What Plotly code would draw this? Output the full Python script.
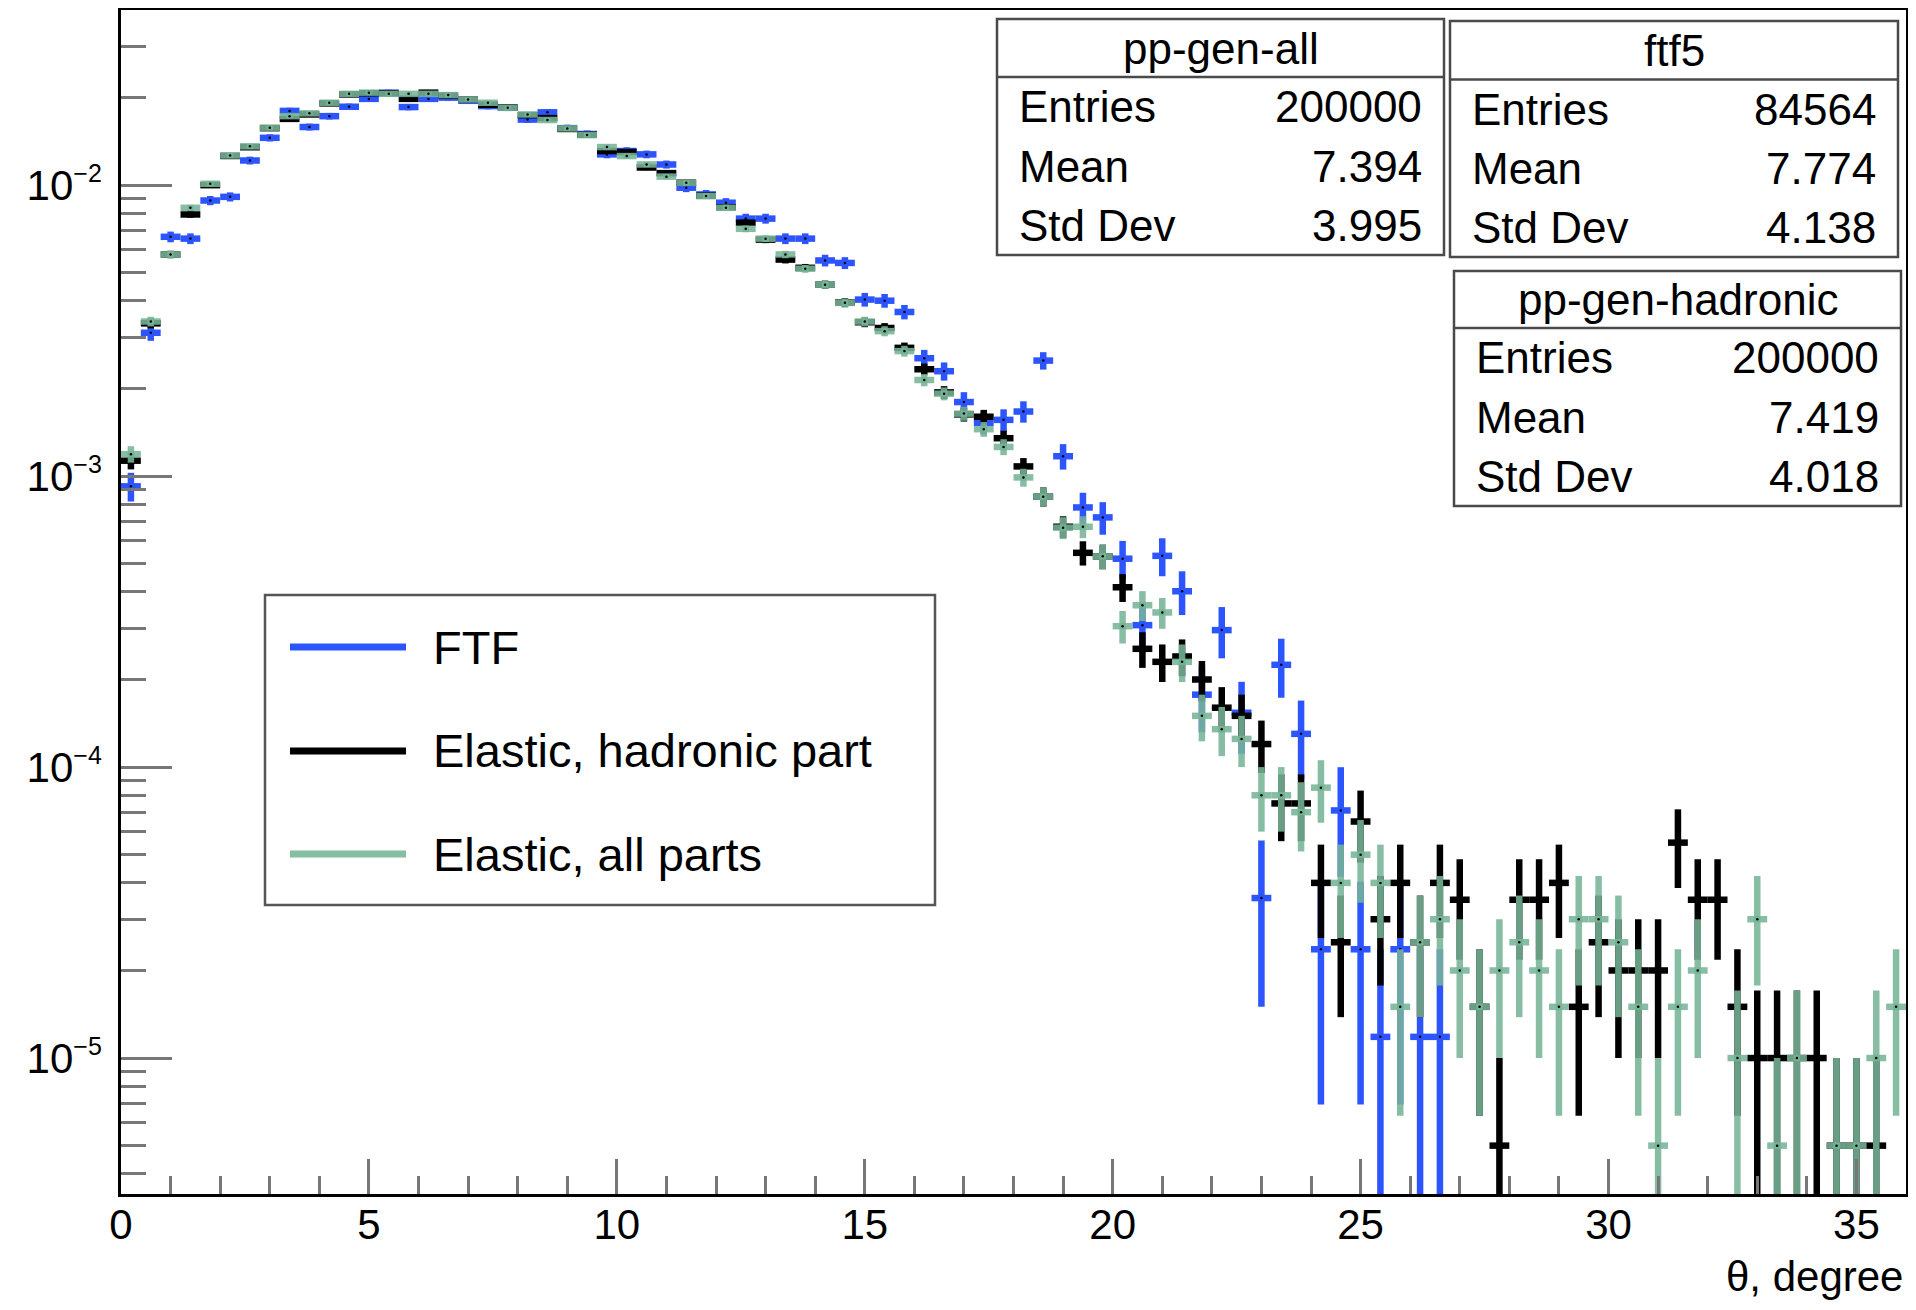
import numpy as np
import plotly.graph_objects as go

# ---------------- data ----------------
N_BINS = 90
X_MIN, X_MAX = 0.0, 36.0

stats_titles = ["pp-gen-all", "ftf5", "pp-gen-hadronic"]
stats_entries = [200000, 84564, 200000]
stats_mean = ["7.394", "7.774", "7.419"]
stats_std = ["3.995", "4.138", "4.018"]

legend_labels = ["FTF", "Elastic, hadronic part", "Elastic, all parts"]

y_decades = [-5, -4, -3, -2]          # labelled decades on the y axis
x_major = [0, 5, 10, 15, 20, 25, 30, 35]

# bin contents (counts) per 0.4-degree bin
ftf_counts = [78, 263, 562, 554, 749, 771, 1028, 1230, 1522, 1340,
              1460, 1573, 1674, 1759, 1569, 1674, 1691, 1649, 1581, 1560,
              1421, 1505, 1328, 1268, 1079, 1108, 1079, 996, 829, 786,
              736, 649, 649, 554, 554, 466, 457, 342, 339, 310,
              215, 194, 152, 129, 132, 141, 211, 99, 66, 61,
              44, 26, 45, 34, 15, 25, 13, 3, 19, 11,
              2, 6, 2, 1, 2, 1, 1, 0, 0, 0,
              0, 0, 0, 0, 0, 0, 0, 0, 0, 0,
              0, 0, 0, 0, 0, 0, 0, 0, 0, 0]

had_counts = [226, 670, 1156, 1586, 2000, 2520, 2700, 3140, 3380, 3500,
              3820, 4100, 4140, 4140, 3960, 4160, 4060, 3940, 3780, 3700,
              3480, 3400, 3120, 2980, 2620, 2600, 2300, 2200, 2040, 1840,
              1680, 1486, 1300, 1110, 1040, 910, 790, 676, 646, 552,
              466, 388, 326, 320, 270, 216, 170, 134, 109, 106,
              83, 51, 46, 48, 40, 32, 30, 24, 15, 15,
              8, 5, 13, 6, 8, 5, 8, 7, 3, 1,
              7, 7, 8, 3, 5, 4, 4, 4, 11, 7,
              7, 3, 2, 2, 2, 2, 1, 1, 1, 0]

all_counts = [238, 680, 1156, 1672, 2022, 2530, 2720, 3152, 3454, 3532,
              3840, 4120, 4160, 4120, 4120, 4120, 4080, 3940, 3840, 3690,
              3500, 3350, 3134, 2972, 2704, 2518, 2356, 2140, 2038, 1834,
              1672, 1416, 1310, 1156, 1032, 910, 788, 680, 630, 538,
              428, 384, 328, 290, 252, 198, 170, 133, 134, 106,
              61, 72, 68, 46, 30, 27, 25, 16, 16, 14,
              17, 8, 10, 8, 3, 5, 6, 4, 3, 4,
              5, 4, 3, 6, 6, 5, 3, 1, 3, 4,
              0, 2, 6, 1, 2, 0, 1, 1, 2, 3]

# ---------------- styling ----------------
FONT = "Liberation Sans, Arial, Helvetica, sans-serif"
BLUE = "rgb(44,84,255)"
BLACK = "rgb(0,0,0)"
GREEN = "rgba(118,180,150,0.88)"
GREEN_LEG = "rgb(134,190,162)"

# page body has an 8px margin: build the figure so that it lands on the target pixels
OFF = 8
W, H = 1916 - OFF, 1310 - OFF
PLOT_L, PLOT_R, PLOT_T, PLOT_B = 121, 1906, 10, 1194   # target pixel frame
ML, MR, MT, MB = PLOT_L - OFF, W - (PLOT_R - OFF), PLOT_T - OFF, H - (PLOT_B - OFF)
PW, PH = PLOT_R - PLOT_L, PLOT_B - PLOT_T

def px(X):
    return (X - PLOT_L) / PW

def py(Y):
    return (PLOT_B - Y) / PH

bin_w = (X_MAX - X_MIN) / N_BINS
theta = X_MIN + bin_w * (np.arange(N_BINS) + 0.5)

fig = go.Figure()

def add_hist(counts, entries, color, name):
    c = np.asarray(counts, dtype=float)
    m = c > 0
    y = c[m] / entries
    ey = np.sqrt(c[m]) / entries
    fig.add_trace(go.Scatter(
        x=theta[m], y=y, mode="markers", name=name, showlegend=False,
        marker=dict(size=2.5, color="black"),
        error_x=dict(type="constant", value=bin_w / 2, thickness=6.5, width=0, color=color),
        error_y=dict(type="data", array=ey, thickness=6.5, width=0, color=color),
        cliponaxis=True,
    ))

add_hist(ftf_counts, stats_entries[1], BLUE, legend_labels[0])
add_hist(had_counts, stats_entries[2], BLACK, legend_labels[1])
add_hist(all_counts, stats_entries[0], GREEN, legend_labels[2])

shapes = []
annotations = []

# ---------------- stats boxes ----------------
boxes = [  # x0, x1, ytop, ysep, ybot  (target pixels)
    (997, 1444, 19, 77, 255),
    (1450, 1898, 21, 79.5, 257),
    (1454, 1901, 271, 328, 506),
]
for k, (x0, x1, yt, ys, yb) in enumerate(boxes):
    shapes.append(dict(type="rect", xref="paper", yref="paper",
                       x0=px(x0), x1=px(x1), y0=py(yb), y1=py(yt),
                       line=dict(color="#4a4a4a", width=2.5), fillcolor="white", layer="above"))
    shapes.append(dict(type="line", xref="paper", yref="paper",
                       x0=px(x0), x1=px(x1), y0=py(ys), y1=py(ys),
                       line=dict(color="#4a4a4a", width=2.5), layer="above"))
    annotations.append(dict(xref="paper", yref="paper", x=px((x0 + x1) / 2), y=py((yt + ys) / 2),
                            text=stats_titles[k], showarrow=False, xanchor="center", yanchor="middle",
                            font=dict(family=FONT, size=44, color="black")))
    row_h = (yb - ys) / 3.0
    labels = ["Entries", "Mean", "Std Dev"]
    vals = [str(stats_entries[k]), stats_mean[k], stats_std[k]]
    for r in range(3):
        yc = ys + row_h * (r + 0.5)
        annotations.append(dict(xref="paper", yref="paper", x=px(x0 + 20), y=py(yc),
                                text=labels[r], showarrow=False, xanchor="left", yanchor="middle",
                                font=dict(family=FONT, size=44, color="black")))
        annotations.append(dict(xref="paper", yref="paper", x=px(x1 - 20), y=py(yc),
                                text=vals[r], showarrow=False, xanchor="right", yanchor="middle",
                                font=dict(family=FONT, size=44, color="black")))

# ---------------- legend box ----------------
LX0, LX1, LY0, LY1 = 265, 935, 595, 905
shapes.append(dict(type="rect", xref="paper", yref="paper",
                   x0=px(LX0), x1=px(LX1), y0=py(LY1), y1=py(LY0),
                   line=dict(color="#555555", width=2.5), fillcolor="white", layer="above"))
leg_y = [647, 751, 854]
leg_col = [BLUE, BLACK, GREEN_LEG]
for lab, yy, col in zip(legend_labels, leg_y, leg_col):
    shapes.append(dict(type="line", xref="paper", yref="paper",
                       x0=px(290), x1=px(406), y0=py(yy), y1=py(yy),
                       line=dict(color=col, width=7), layer="above"))
    annotations.append(dict(xref="paper", yref="paper", x=px(431), y=py(yy),
                            text=lab, showarrow=False, xanchor="left", yanchor="middle",
                            font=dict(family=FONT, size=47, color="black")))

# x-axis title
annotations.append(dict(xref="paper", yref="paper", x=px(1905), y=py(1276),
                        text="θ, degree", showarrow=False, xanchor="right", yanchor="middle",
                        font=dict(family=FONT, size=42, color="black")))

fig.update_layout(
    width=W, height=H,
    margin=dict(l=ML, r=MR, t=MT, b=MB, pad=0, autoexpand=False),
    paper_bgcolor="white", plot_bgcolor="white",
    showlegend=False,
    shapes=shapes, annotations=annotations,
    font=dict(family=FONT, size=42, color="black"),
)

fig.update_xaxes(
    range=[X_MIN, X_MAX], showgrid=False, zeroline=False, automargin=False,
    showline=True, linecolor="black", linewidth=2.5, mirror=True,
    ticks="inside", tickmode="array", tickvals=x_major, ticktext=[str(v) for v in x_major],
    ticklen=35, tickwidth=2.5, tickcolor="#777777",
    minor=dict(ticks="inside", tickmode="linear", tick0=0, dtick=1, ticklen=18, tickwidth=2.5,
               tickcolor="#777777", showgrid=False),
    tickfont=dict(family=FONT, size=42, color="black"),
    ticklabelstandoff=-8,
)

y_tickvals = [10.0 ** e for e in y_decades]
y_ticktext = ["10<sup><span style='font-size:25px'>\u2212%d</span></sup>" % (-e) for e in y_decades]
minor_vals = [m * 10.0 ** e for e in range(-6, -1) for m in range(2, 10)]

fig.update_yaxes(
    type="log", range=[np.log10(3.41e-6), np.log10(0.04)], showgrid=False, zeroline=False, automargin=False,
    showline=True, linecolor="black", linewidth=2.5, mirror=True,
    ticks="inside", tickmode="array", tickvals=y_tickvals, ticktext=y_ticktext,
    ticklen=51, tickwidth=2.5, tickcolor="#777777",
    minor=dict(ticks="inside", tickmode="array", tickvals=minor_vals, ticklen=25, tickwidth=2.5,
               tickcolor="#777777", showgrid=False),
    tickfont=dict(family=FONT, size=42, color="black"),
    ticklabelstandoff=8,
)

fig.write_html("out.html")
